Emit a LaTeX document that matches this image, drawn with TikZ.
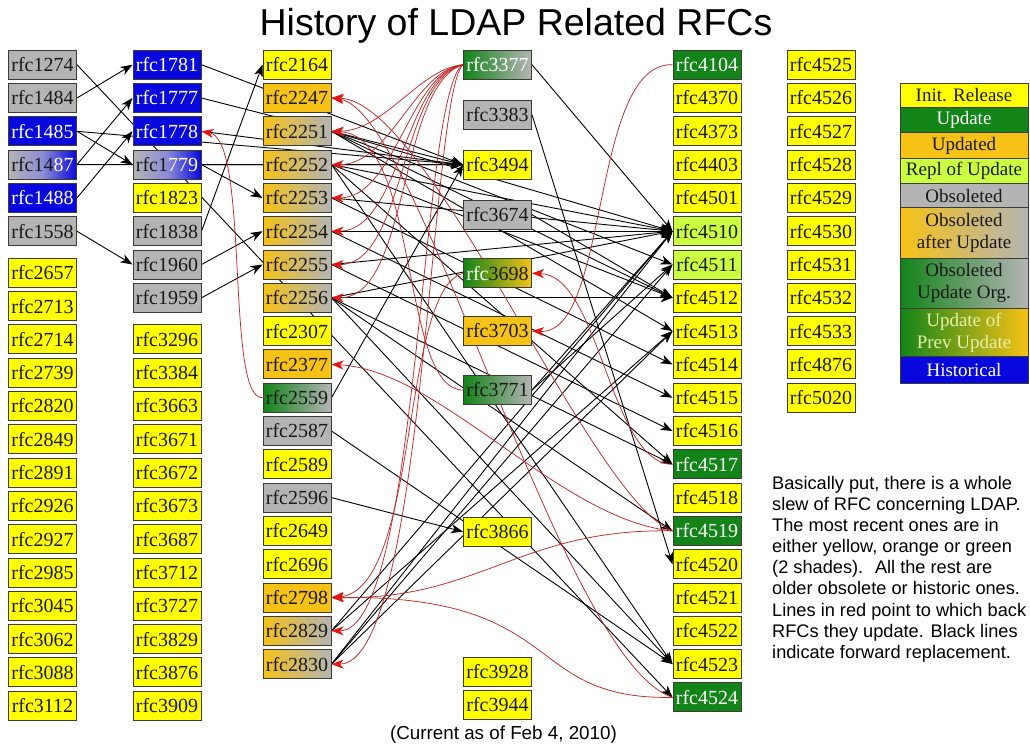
\documentclass[tikz,border=0pt]{standalone}
\usepackage{fontspec}
\setmainfont{Liberation Serif}
\newfontfamily\labelsans{Liberation Sans}
\usetikzlibrary{arrows.meta}

\definecolor{cyel}{RGB}{255,255,0}
\definecolor{corg}{RGB}{246,194,22}
\definecolor{cgrn}{RGB}{18,132,24}
\definecolor{clgr}{RGB}{204,255,64}
\definecolor{cgry}{RGB}{180,180,180}
\definecolor{cblu}{RGB}{8,8,222}
\definecolor{boxline}{RGB}{60,60,50}
\definecolor{redline}{RGB}{196,40,40}
\definecolor{redtip}{RGB}{232,20,20}
\definecolor{paletext}{RGB}{232,240,170}
\definecolor{darktext}{RGB}{25,25,25}

\pgfdeclarelayer{paper}
\pgfdeclarelayer{links}
\pgfsetlayers{paper,links,main}

\tikzset{
  rfc/.style={draw=boxline, line width=1pt, minimum width=68pt, minimum height=29pt,
    inner sep=0pt, text=darktext, font=\fontsize{20}{22}\selectfont},
  legendrow/.style={draw=boxline, line width=0.8pt, minimum width=128pt, inner sep=0pt,
    align=center, text=darktext, font=\fontsize{19}{22}\selectfont},
  fyel/.style={fill=cyel},
  forg/.style={fill=corg},
  fgrn/.style={fill=cgrn, text=white},
  flgr/.style={fill=clgr},
  fgry/.style={fill=cgry},
  fblu/.style={fill=cblu, text=white},
  forggry/.style={left color=corg, right color=cgry},
  fgrngry/.style={left color=cgrn, right color=cgry},
  fgrngryw/.style={left color=cgrn, right color=cgry, text=white},
  fgrnorg/.style={left color=cgrn, right color=corg, text=white},
  fgryblu/.style={left color=cgry, right color=cblu, middle color={rgb,255:red,140;green,140;blue,215}},
  fwd/.style={draw=black, line width=0.9pt, -{Stealth[length=12pt,width=9pt,inset=3.5pt]}},
  upd/.style={draw=redline, line width=0.75pt, -{Stealth[length=12pt,width=9pt,inset=3.5pt,color=redtip]}}
}

\begin{document}
\begin{tikzpicture}[x=1pt,y=-1pt]
\useasboundingbox (0,0) rectangle (1030,745);
\begin{pgfonlayer}{paper}
  \fill[white] (0,0) rectangle (1030,745);
\end{pgfonlayer}

% title and footer
\node[font=\labelsans\fontsize{37.5}{40}\selectfont, anchor=base] (title) at (516,35) {History of LDAP Related RFCs};
\node[font=\labelsans\fontsize{18.8}{20}\selectfont, anchor=base] (footer) at (503.5,739) {(Current as of Feb 4, 2010)};

% first column
\node[rfc,fgry] (r1274) at (42.5,64.7) {rfc1274};
\node[rfc,fgry] (r1484) at (42.5,98.0) {rfc1484};
\node[rfc,fblu] (r1485) at (42.5,131.3) {rfc1485};
\node[rfc,fgryblu] (r1487) at (42.5,164.6) {rfc14\textcolor{white}{87}};
\node[rfc,fblu] (r1488) at (42.5,197.9) {rfc1488};
\node[rfc,fgry] (r1558) at (42.5,231.2) {rfc1558};
\node[rfc,fyel] (r2657) at (42.5,272.8) {rfc2657};
\node[rfc,fyel] (r2713) at (42.5,306.1) {rfc2713};
\node[rfc,fyel] (r2714) at (42.5,339.4) {rfc2714};
\node[rfc,fyel] (r2739) at (42.5,372.7) {rfc2739};
\node[rfc,fyel] (r2820) at (42.5,406.0) {rfc2820};
\node[rfc,fyel] (r2849) at (42.5,439.3) {rfc2849};
\node[rfc,fyel] (r2891) at (42.5,472.6) {rfc2891};
\node[rfc,fyel] (r2926) at (42.5,505.9) {rfc2926};
\node[rfc,fyel] (r2927) at (42.5,539.2) {rfc2927};
\node[rfc,fyel] (r2985) at (42.5,572.5) {rfc2985};
\node[rfc,fyel] (r3045) at (42.5,605.8) {rfc3045};
\node[rfc,fyel] (r3062) at (42.5,639.1) {rfc3062};
\node[rfc,fyel] (r3088) at (42.5,672.4) {rfc3088};
\node[rfc,fyel] (r3112) at (42.5,705.7) {rfc3112};

% second column
\node[rfc,fblu] (r1781) at (167,64.7) {rfc1781};
\node[rfc,fblu] (r1777) at (167,98.0) {rfc1777};
\node[rfc,fblu] (r1778) at (167,131.3) {rfc1778};
\node[rfc,fgryblu] (r1779) at (167,164.6) {rfc1\textcolor{white}{779}};
\node[rfc,fyel] (r1823) at (167,197.9) {rfc1823};
\node[rfc,fgry] (r1838) at (167,231.2) {rfc1838};
\node[rfc,fgry] (r1960) at (167,264.5) {rfc1960};
\node[rfc,fgry] (r1959) at (167,297.8) {rfc1959};
\node[rfc,fyel] (r3296) at (167,339.4) {rfc3296};
\node[rfc,fyel] (r3384) at (167,372.7) {rfc3384};
\node[rfc,fyel] (r3663) at (167,406.0) {rfc3663};
\node[rfc,fyel] (r3671) at (167,439.3) {rfc3671};
\node[rfc,fyel] (r3672) at (167,472.6) {rfc3672};
\node[rfc,fyel] (r3673) at (167,505.9) {rfc3673};
\node[rfc,fyel] (r3687) at (167,539.2) {rfc3687};
\node[rfc,fyel] (r3712) at (167,572.5) {rfc3712};
\node[rfc,fyel] (r3727) at (167,605.8) {rfc3727};
\node[rfc,fyel] (r3829) at (167,639.1) {rfc3829};
\node[rfc,fyel] (r3876) at (167,672.4) {rfc3876};
\node[rfc,fyel] (r3909) at (167,705.7) {rfc3909};

% third column
\node[rfc,fyel] (r2164) at (297,64.7) {rfc2164};
\node[rfc,forg] (r2247) at (297,98.0) {rfc2247};
\node[rfc,forggry] (r2251) at (297,131.3) {rfc2251};
\node[rfc,forggry] (r2252) at (297,164.6) {rfc2252};
\node[rfc,forggry] (r2253) at (297,197.9) {rfc2253};
\node[rfc,forggry] (r2254) at (297,231.2) {rfc2254};
\node[rfc,forggry] (r2255) at (297,264.5) {rfc2255};
\node[rfc,forggry] (r2256) at (297,297.8) {rfc2256};
\node[rfc,fyel] (r2307) at (297,331.1) {rfc2307};
\node[rfc,forg] (r2377) at (297,364.4) {rfc2377};
\node[rfc,fgrngry] (r2559) at (297,397.7) {rfc2559};
\node[rfc,fgry] (r2587) at (297,431.0) {rfc2587};
\node[rfc,fyel] (r2589) at (297,464.3) {rfc2589};
\node[rfc,fgry] (r2596) at (297,497.6) {rfc2596};
\node[rfc,fyel] (r2649) at (297,530.9) {rfc2649};
\node[rfc,fyel] (r2696) at (297,564.2) {rfc2696};
\node[rfc,forg] (r2798) at (297,597.5) {rfc2798};
\node[rfc,forggry] (r2829) at (297,630.8) {rfc2829};
\node[rfc,forggry] (r2830) at (297,664.1) {rfc2830};

% fourth column
\node[rfc,fgrngryw] (r3377) at (497.5,64.7) {rfc3377};
\node[rfc,fgry] (r3383) at (497.5,114.7) {rfc3383};
\node[rfc,fyel] (r3494) at (497.5,164.7) {rfc3494};
\node[rfc,fgry] (r3674) at (497.5,214.7) {rfc3674};
\node[rfc,fgrnorg] (r3698) at (497.5,273.3) {rfc\textcolor{darktext}{3698}};
\node[rfc,forg] (r3703) at (497.5,331.0) {rfc3703};
\node[rfc,fgrngry] (r3771) at (497.5,390.0) {rfc3771};
\node[rfc,fyel] (r3866) at (497.5,531.7) {rfc3866};
\node[rfc,fyel] (r3928) at (497.5,671.7) {rfc3928};
\node[rfc,fyel] (r3944) at (497.5,705.0) {rfc3944};

% fifth column
\node[rfc,fgrn] (r4104) at (707,64.7) {rfc4104};
\node[rfc,fyel] (r4370) at (707,98.0) {rfc4370};
\node[rfc,fyel] (r4373) at (707,131.3) {rfc4373};
\node[rfc,fyel] (r4403) at (707,164.6) {rfc4403};
\node[rfc,fyel] (r4501) at (707,197.9) {rfc4501};
\node[rfc,flgr] (r4510) at (707,231.2) {rfc4510};
\node[rfc,flgr] (r4511) at (707,264.5) {rfc4511};
\node[rfc,fyel] (r4512) at (707,297.8) {rfc4512};
\node[rfc,fyel] (r4513) at (707,331.1) {rfc4513};
\node[rfc,fyel] (r4514) at (707,364.4) {rfc4514};
\node[rfc,fyel] (r4515) at (707,397.7) {rfc4515};
\node[rfc,fyel] (r4516) at (707,431.0) {rfc4516};
\node[rfc,fgrn] (r4517) at (707,464.3) {rfc4517};
\node[rfc,fyel] (r4518) at (707,497.6) {rfc4518};
\node[rfc,fgrn] (r4519) at (707,530.9) {rfc4519};
\node[rfc,fyel] (r4520) at (707,564.2) {rfc4520};
\node[rfc,fyel] (r4521) at (707,597.5) {rfc4521};
\node[rfc,fyel] (r4522) at (707,630.8) {rfc4522};
\node[rfc,fyel] (r4523) at (707,664.1) {rfc4523};
\node[rfc,fgrn] (r4524) at (707,697.4) {rfc4524};

% sixth column
\node[rfc,fyel] (r4525) at (821,64.7) {rfc4525};
\node[rfc,fyel] (r4526) at (821,98.0) {rfc4526};
\node[rfc,fyel] (r4527) at (821,131.3) {rfc4527};
\node[rfc,fyel] (r4528) at (821,164.6) {rfc4528};
\node[rfc,fyel] (r4529) at (821,197.9) {rfc4529};
\node[rfc,fyel] (r4530) at (821,231.2) {rfc4530};
\node[rfc,fyel] (r4531) at (821,264.5) {rfc4531};
\node[rfc,fyel] (r4532) at (821,297.8) {rfc4532};
\node[rfc,fyel] (r4533) at (821,331.1) {rfc4533};
\node[rfc,fyel] (r4876) at (821,364.4) {rfc4876};
\node[rfc,fyel] (r5020) at (821,397.7) {rfc5020};

% colour key
\node[legendrow,fyel,minimum height=24.4pt] (k1) at (964,95.5) {Init. Release};
\node[legendrow,fgrn,minimum height=25pt] (k2) at (964,120.2) {Update};
\node[legendrow,forg,minimum height=25.6pt] (k3) at (964,145.5) {Updated};
\node[legendrow,flgr,minimum height=25pt] (k4) at (964,170.8) {Repl of Update};
\node[legendrow,fgry,minimum height=24.4pt] (k5) at (964,195.5) {Obsoleted};
\node[legendrow,forggry,minimum height=50.6pt] (k6) at (964,233.0) {Obsoleted\\after Update};
\node[legendrow,fgrngry,minimum height=50pt] (k7) at (964,283.3) {Obsoleted\\Update Org.};
\node[legendrow,fgrnorg,text=paletext,minimum height=48.4pt] (k8) at (964,332.5) {Update of\\Prev Update};
\node[legendrow,fblu,minimum height=26.6pt] (k9) at (964,370.0) {Historical};

% explanatory note
\node[anchor=north west, inner sep=0pt, align=left,
      font=\labelsans\fontsize{18.2}{21.1}\selectfont] (note) at (772,476)
  {Basically put, there is a whole\\
   slew of RFC concerning LDAP.\\
   The most recent ones are in\\
   either yellow, orange or green\\
   (2 shades).~ All the rest are\\
   older obsolete or historic ones.\\
   Lines in red point to which back\\
   RFCs they update. Black lines\\
   indicate forward replacement.};

\begin{pgfonlayer}{links}
% forward replacement (black)
\draw[fwd] (r1484.east) -- (r1781.west);
\draw[fwd] (r1485.east) -- (r1779.west);
\draw[fwd] (r1485.east) -- (r3494.west);
\draw[fwd] (r1487.east) -- (r1777.west);
\draw[fwd] (r1487.east) -- (r3494.west);
\draw[fwd] (r1488.east) -- (r1778.west);
\draw[fwd] (r1558.east) -- (r1960.west);
\draw[fwd] (r1274.east) -- (r4524.west);
\draw[fwd] (r1781.east) -- (r3494.west);
\draw[fwd] (r1777.east) -- (r3494.west);
\draw[fwd] (r1778.east) -- (r3494.west);
\draw[fwd] (r1779.east) -- (r3494.west);
\draw[fwd] (r1779.east) -- (r2253.west);
\draw[fwd] (r1838.east) -- (r2164.west);
\draw[fwd] (r1960.east) -- (r2254.west);
\draw[fwd] (r1959.east) -- (r2255.west);
\draw[fwd] (r2251.east) -- (r4510.west);
\draw[fwd] (r2251.east) -- (r4511.west);
\draw[fwd] (r2251.east) -- (r4512.west);
\draw[fwd] (r2251.east) -- (r4513.west);
\draw[fwd] (r2252.east) -- (r4510.west);
\draw[fwd] (r2252.east) -- (r4512.west);
\draw[fwd] (r2252.east) -- (r4517.west);
\draw[fwd] (r2252.east) -- (r4523.west);
\draw[fwd] (r2253.east) -- (r4510.west);
\draw[fwd] (r2253.east) -- (r4514.west);
\draw[fwd] (r2254.east) -- (r4510.west);
\draw[fwd] (r2254.east) -- (r4515.west);
\draw[fwd] (r2255.east) -- (r4510.west);
\draw[fwd] (r2255.east) -- (r4516.west);
\draw[fwd] (r2256.east) -- (r4510.west);
\draw[fwd] (r2256.east) -- (r4512.west);
\draw[fwd] (r2256.east) -- (r4517.west);
\draw[fwd] (r2256.east) -- (r4519.west);
\draw[fwd] (r2256.east) -- (r4523.west);
\draw[fwd] (r2559.east) -- (r3494.west);
\draw[fwd] (r2587.east) -- (r4523.west);
\draw[fwd] (r2596.east) -- (r3866.west);
\draw[fwd] (r2829.east) -- (r4510.west);
\draw[fwd] (r2829.east) -- (r4513.west);
\draw[fwd] (r2830.east) -- (r4510.west);
\draw[fwd] (r2830.east) -- (r4511.west);
\draw[fwd] (r2830.east) -- (r4513.west);
\draw[fwd] (r3377.east) -- (r4510.west);
\draw[fwd] (r3383.east) -- (r4520.west);
\draw[fwd] (r3674.east) -- (r4512.west);
\draw[fwd] (r3771.east) -- (r4510.west);
\draw[fwd] (r3771.east) -- (r4511.west);

% updates (red), pointing back to the updated document
\draw[upd] (r3377.west) .. controls (420,68) and (385,131) .. (r2251.east);
\draw[upd] (r3377.west) .. controls (415,70) and (390,165) .. (r2252.east);
\draw[upd] (r3377.west) .. controls (410,72) and (395,198) .. (r2253.east);
\draw[upd] (r3377.west) .. controls (405,75) and (400,231) .. (r2254.east);
\draw[upd] (r3377.west) .. controls (400,80) and (405,265) .. (r2255.east);
\draw[upd] (r3377.west) .. controls (398,85) and (410,298) .. (r2256.east);
\draw[upd] (r3377.west) .. controls (420,90) and (420,631) .. (r2829.east);
\draw[upd] (r3377.west) .. controls (430,95) and (425,664) .. (r2830.east);
\draw[upd] (r3771.west) .. controls (400,390) and (420,135) .. (r2251.east);
\draw[upd] (r2559.west) .. controls (225,400) and (250,140) .. (r1778.east);
\draw[upd] (r4104.west) .. controls (590,62) and (610,335) .. (r3703.east);
\draw[upd] (r4517.west) .. controls (610,464) and (600,275) .. (r3698.east);
\draw[upd] (r3698.west) .. controls (400,290) and (420,590) .. (r2798.east);
\draw[upd] (r4519.west) .. controls (520,528) and (480,600) .. (r2798.east);
\draw[upd] (r4524.west) .. controls (520,700) and (570,595) .. (r2798.east);
\draw[upd] (r4519.west) .. controls (560,520) and (440,370) .. (r2377.east);
\draw[upd] (r4519.west) .. controls (590,500) and (430,100) .. (r2247.east);
\draw[upd] (r4524.west) .. controls (560,660) and (420,110) .. (r2247.east);
\end{pgfonlayer}
\end{tikzpicture}
\end{document}
